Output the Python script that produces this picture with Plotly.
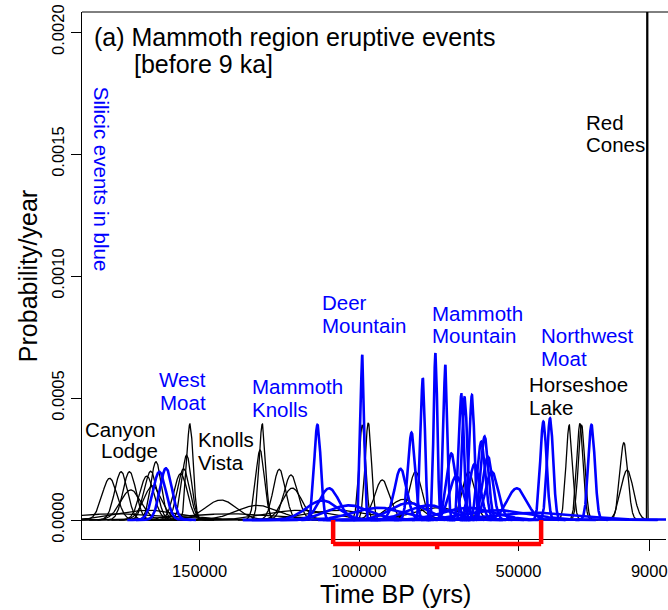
import numpy as np
import plotly.graph_objects as go

# ---- Data ---------------------------------------------------------------
# Mafic / other events (black): age (years BP) and peak probability/year
black_age = [178219, 174594, 171969, 171563, 166562, 165312, 164687, 163656,
             155937, 155000, 154062, 153031, 143344, 131875, 131031, 130312,
             125000, 121344, 120937, 98969, 97094, 92719, 85937, 82281,
             65625, 34062, 30719, 30219, 16969, 15937, 9594,
             118750, 75000, 165625, 106250, 176000, 140000]
black_peak = [0.000171, 0.000198, 0.000198, 0.000123, 0.000180, 0.000200, 0.000140, 0.000239,
              0.000190, 0.000210, 0.000266, 0.000394, 0.000082, 0.000060, 0.000287, 0.000394,
              0.000208, 0.000185, 0.000131, 0.000390, 0.000398, 0.000164, 0.000085, 0.000198,
              0.000198, 0.000390, 0.000396, 0.000390, 0.000317, 0.000205, 0.006500,
              0.000040, 0.000050, 0.000040, 0.000040, 0.000025, 0.000025]

# Silicic events (blue)
blue_age = [162594, 160531, 113031, 109375, 111562, 98969, 86969, 83531,
            80000, 76031, 72906, 71031, 67906, 66875, 64594, 61656,
            60625, 59594, 58344, 50531, 42187, 40094, 27094,
            103125, 93750, 78125, 65625, 56250, 43750, 84375, 63750, 69500]
blue_peak = [0.000198, 0.000212, 0.000390, 0.000130, 0.000080, 0.000677, 0.000210, 0.000358,
             0.000581, 0.000684, 0.000636, 0.000273, 0.000515, 0.000506, 0.000512, 0.000321,
             0.000342, 0.000260, 0.000198, 0.000130, 0.000403, 0.000417, 0.000390,
             0.000060, 0.000050, 0.000060, 0.000050, 0.000040, 0.000030, 0.000070, 0.000230, 0.000180]

# Highlighted period (red bracket), years BP
bracket_start = 108125
bracket_end = 42906

x_tickvals = [150000, 100000, 50000, 9000]
x_ticktext = ["150000", "100000", "50000", "9000"]
y_tickvals = [0.0, 0.0005, 0.0010, 0.0015, 0.0020]
y_ticktext = ["0.0000", "0.0005", "0.0010", "0.0015", "0.0020"]

X_RANGE = [186875, 3750]
Y_RANGE = [-0.0000779, 0.0020825]

FONT = "Liberation Sans, Arial, sans-serif"


def density_curve(age, peak):
    """Normal probability density for an event age whose peak density is `peak`."""
    sigma = 1.0 / (peak * np.sqrt(2 * np.pi))
    t = np.linspace(age - 5 * sigma, age + 5 * sigma, 500)
    p = np.exp(-0.5 * ((t - age) / sigma) ** 2) / (sigma * np.sqrt(2 * np.pi))
    return t, p


fig = go.Figure()

for a, pk in zip(black_age, black_peak):
    t, p = density_curve(a, pk)
    fig.add_trace(go.Scatter(x=t, y=p, mode="lines",
                             line=dict(color="black", width=1.3),
                             hoverinfo="skip", showlegend=False))

for a, pk in zip(blue_age, blue_peak):
    t, p = density_curve(a, pk)
    fig.add_trace(go.Scatter(x=t, y=p, mode="lines",
                             line=dict(color="#0000FF", width=2.6),
                             hoverinfo="skip", showlegend=False))

# zero line
fig.add_shape(type="line", xref="paper", yref="y", x0=0, x1=1, y0=0, y1=0,
              line=dict(color="#C8C8C8", width=1), layer="below")

# frame: top edge (the right edge lies outside the picture)
fig.add_shape(type="line", xref="paper", yref="paper", x0=0, x1=1.01, y0=1, y1=1,
              line=dict(color="black", width=1))


def ypaper(v):
    return (v - Y_RANGE[0]) / (Y_RANGE[1] - Y_RANGE[0])


red = dict(color="#FF0000", width=4.5)
yb_top = ypaper(0.0)
yb_bot = ypaper(-0.0000984)
yb_tick = ypaper(-0.000120)
fig.add_shape(type="line", xref="x", yref="paper", x0=bracket_start, x1=bracket_start,
              y0=yb_top, y1=yb_bot, line=red)
fig.add_shape(type="line", xref="x", yref="paper", x0=bracket_end, x1=bracket_end,
              y0=yb_top, y1=yb_bot, line=red)
fig.add_shape(type="line", xref="x", yref="paper", x0=bracket_start, x1=bracket_end,
              y0=yb_bot, y1=yb_bot, line=red)
mid = (bracket_start + bracket_end) / 2
fig.add_shape(type="line", xref="x", yref="paper", x0=mid, x1=mid,
              y0=yb_bot, y1=yb_tick, line=red)

LBL = 20.5
labels = [
    # text, x, y, anchor, colour, size
    ("(a) Mammoth region eruptive events", 183437, 0.001980, "left", "black", 25),
    ("[before 9 ka]", 170937, 0.001870, "left", "black", 25),
    ("West", 155312, 0.000574, "center", "#0000FF", LBL),
    ("Moat", 155312, 0.000480, "center", "#0000FF", LBL),
    ("Canyon", 163344, 0.000369, "right", "black", LBL),
    ("Lodge", 162719, 0.000283, "right", "black", LBL),
    ("Knolls", 150937, 0.000328, "left", "black", LBL),
    ("Vista", 150937, 0.000234, "left", "black", LBL),
    ("Mammoth", 133750, 0.000546, "left", "#0000FF", LBL),
    ("Knolls", 133750, 0.000451, "left", "#0000FF", LBL),
    ("Deer", 111875, 0.000890, "left", "#0000FF", LBL),
    ("Mountain", 111875, 0.000796, "left", "#0000FF", LBL),
    ("Mammoth", 77500, 0.000845, "left", "#0000FF", LBL),
    ("Mountain", 77500, 0.000755, "left", "#0000FF", LBL),
    ("Northwest", 43219, 0.000755, "left", "#0000FF", LBL),
    ("Moat", 43219, 0.000664, "left", "#0000FF", LBL),
    ("Horseshoe", 46875, 0.000554, "left", "black", LBL),
    ("Lake", 46875, 0.000463, "left", "black", LBL),
    ("Red", 29062, 0.001628, "left", "black", LBL),
    ("Cones", 29062, 0.001538, "left", "black", LBL),
]
for text, x, y, anc, col, size in labels:
    fig.add_annotation(x=x, y=y, xref="x", yref="y", text=text, showarrow=False,
                       xanchor=anc, yanchor="middle", borderpad=0,
                       font=dict(family=FONT, size=size, color=col))

fig.add_annotation(x=180937, y=0.001395, xref="x", yref="y", text="Silicic events in blue",
                   showarrow=False, textangle=90, xanchor="center", yanchor="middle",
                   font=dict(family=FONT, size=20.5, color="#0000FF"))

# axis titles
fig.add_annotation(x=0.5375, y=-0.1044, xref="paper", yref="paper", text="Time BP (yrs)",
                   showarrow=False, xanchor="center", yanchor="middle",
                   font=dict(family=FONT, size=25, color="black"))
fig.add_annotation(x=-0.0922, y=0.499, xref="paper", yref="paper", text="Probability/year",
                   showarrow=False, textangle=-90, xanchor="center", yanchor="middle",
                   font=dict(family=FONT, size=25, color="black"))

fig.update_layout(
    width=668, height=610,
    margin=dict(l=82, r=0, t=12, b=71),
    paper_bgcolor="white", plot_bgcolor="white",
    font=dict(family=FONT, color="black"),
    xaxis=dict(range=X_RANGE, tickmode="array", tickvals=x_tickvals, ticktext=x_ticktext,
               ticks="outside", ticklen=11, tickwidth=1, tickcolor="black",
               showline=True, linecolor="black", linewidth=1, mirror=False,
               showgrid=False, zeroline=False, ticklabelstandoff=6,
               ticklabeloverflow="allow",
               tickfont=dict(family=FONT, size=16.5, color="black")),
    yaxis=dict(range=Y_RANGE, tickmode="array", tickvals=y_tickvals, ticktext=y_ticktext,
               ticks="outside", ticklen=10, tickwidth=1, tickcolor="black",
               showline=True, linecolor="black", linewidth=1, mirror=False,
               showgrid=False, zeroline=False, tickangle=-90, ticklabelstandoff=0,
               ticklabeloverflow="allow",
               tickfont=dict(family=FONT, size=16.5, color="black")),
)

fig.write_html("out.html", config={"displayModeBar": False})
